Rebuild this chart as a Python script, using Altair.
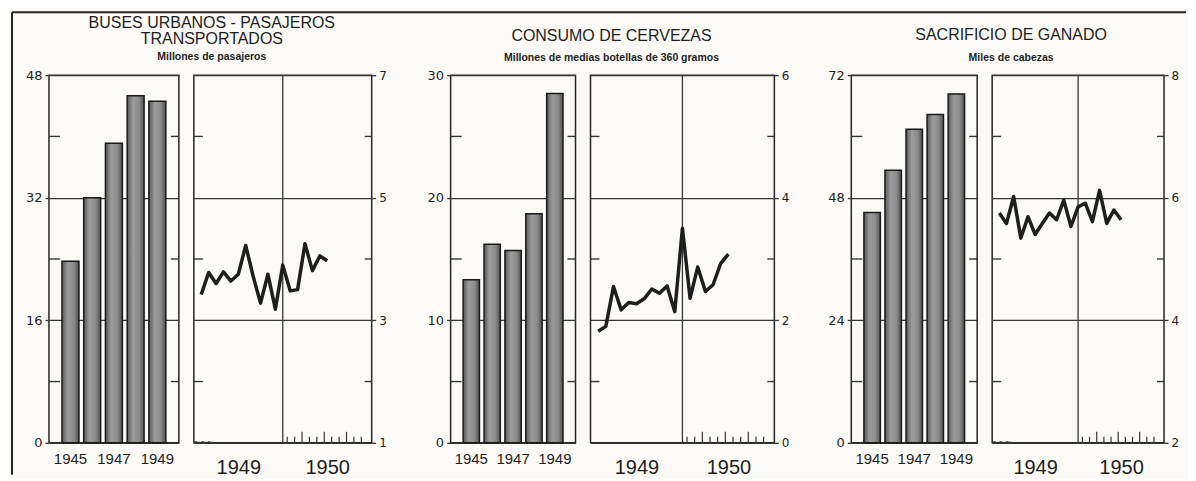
import altair as alt
import pandas as pd

# ---------------- data ----------------
years = ["1945", "1946", "1947", "1948", "1949"]
year_labels = ["1945", "1947", "1949"]

bus_bars = [23.7, 32.0, 39.1, 45.3, 44.6]
beer_bars = [13.3, 16.2, 15.7, 18.7, 28.5]
cattle_bars = [45.1, 53.4, 61.4, 64.3, 68.3]

# monthly values Jan 1949 .. Jun 1950 (month index 1..18, plotted at month end)
months = [1, 2, 3, 4, 5, 6, 7, 8, 9, 10, 11, 12, 13, 14, 15, 16, 17, 18]
bus_line = [3.42, 3.78, 3.60, 3.79, 3.64, 3.75, 4.22, 3.72, 3.28, 3.75, 3.18, 3.90,
            3.48, 3.50, 4.25, 3.81, 4.05, 3.97]
beer_line = [1.82, 1.90, 2.55, 2.17, 2.29, 2.27, 2.35, 2.51, 2.44, 2.56, 2.14, 3.50,
             2.36, 2.87, 2.47, 2.58, 2.93, 3.08]
cattle_line = [5.75, 5.58, 6.02, 5.34, 5.69, 5.40, 5.58, 5.75, 5.64, 5.96, 5.53, 5.85,
               5.91, 5.61, 6.12, 5.58, 5.80, 5.64]

# axis values
bus_bar_major = [0, 16, 32, 48]
bus_bar_minor = [8, 24, 40]
bus_line_major = [1, 3, 5, 7]
bus_line_minor = [2, 4, 6]
beer_bar_major = [0, 10, 20, 30]
beer_bar_minor = [5, 15, 25]
beer_line_major = [0, 2, 4, 6]
beer_line_minor = [1, 3, 5]
cattle_bar_major = [0, 24, 48, 72]
cattle_bar_minor = [12, 36, 60]
cattle_line_major = [2, 4, 6, 8]
cattle_line_minor = [3, 5, 7]

year_boundary = [12]
month_ticks_short = [12.6, 13.6, 15.6, 16.6, 18.6, 19.6, 21.6, 22.6]
month_ticks_tall = [14.6, 17.6, 20.6]

bus_title = ["BUSES URBANOS - PASAJEROS", "TRANSPORTADOS"]
bus_sub = "Millones de pasajeros"
beer_title = ["CONSUMO DE CERVEZAS"]
beer_sub = "Millones de medias botellas de 360 gramos"
cattle_title = ["SACRIFICIO DE GANADO"]
cattle_sub = "Miles de cabezas"

# ---------------- style ----------------
H = 368
INK = "#1e1e1e"
GRID = "#363636"
BORDER = "#262626"
BG = "#fbfaf6"
FONT = "Liberation Sans"
NUMFONT = "DejaVu Sans"

bar_fill = alt.LinearGradient(
    gradient="linear",
    stops=[
        alt.GradientStop(offset=0, color="#5a5a5a"),
        alt.GradientStop(offset=0.35, color="#9c9c9c"),
        alt.GradientStop(offset=0.7, color="#8b8b8b"),
        alt.GradientStop(offset=1, color="#525252"),
    ],
    x1=0, x2=1, y1=0, y2=0,
)

one = pd.DataFrame({"a": [0]})


def y_axis(orient, major, size):
    return alt.Axis(
        orient=orient, values=major, grid=True, gridColor=GRID, gridWidth=1.3,
        domain=False, ticks=True, tickSize=4, tickColor=GRID, tickWidth=1.3,
        labelFont=NUMFONT, labelFontSize=size, labelColor=INK, labelPadding=3,
        title=None,
    )


def minor_ticks(minor, yscale, yaxis, width, left_len, right_len):
    mdf = pd.DataFrame({"v": minor})
    left = alt.Chart(mdf).mark_rule(color=GRID, strokeWidth=1.4).encode(
        y=alt.Y("v:Q", scale=yscale, axis=yaxis),
        x=alt.value(0), x2=alt.value(left_len),
    )
    right = alt.Chart(mdf).mark_rule(color=GRID, strokeWidth=1.4).encode(
        y=alt.Y("v:Q", scale=yscale, axis=yaxis),
        x=alt.value(width - right_len), x2=alt.value(width),
    )
    return [left, right]


def texts(lines, sub, cx, ys, sub_y):
    out = []
    for line, ty in zip(lines, ys):
        out.append(
            alt.Chart(one).mark_text(
                text=line, font=FONT, fontSize=16, color=INK, align="center",
                baseline="alphabetic",
            ).encode(x=alt.value(cx), y=alt.value(ty))
        )
    out.append(
        alt.Chart(one).mark_text(
            text=sub, font=FONT, fontSize=10.5, fontWeight="bold", color=INK,
            align="center", baseline="alphabetic",
        ).encode(x=alt.value(cx), y=alt.value(sub_y))
    )
    return out


def bar_panel(values, major, minor, width, title_layers, extra=None):
    df = pd.DataFrame({"year": years, "v": values})
    yscale = alt.Scale(domain=[major[0], major[-1]], nice=False, zero=False)
    yaxis = y_axis("left", major, 13)
    bars = alt.Chart(df).mark_bar(fill=bar_fill, stroke="#191919", strokeWidth=1.5).encode(
        x=alt.X(
            "year:N",
            scale=alt.Scale(paddingInner=0.22, paddingOuter=0.6),
            axis=alt.Axis(
                values=year_labels, labelAngle=0, title=None, ticks=False, domain=False,
                labelFont=FONT, labelFontSize=15, labelPadding=9, labelColor=INK,
            ),
        ),
        y=alt.Y("v:Q", scale=yscale, axis=yaxis),
    )
    layers = [bars] + minor_ticks(minor, yscale, yaxis, width, 11, 8) + title_layers
    if extra:
        layers += extra
    return alt.layer(*layers).properties(width=width, height=H)


def line_panel(values, major, minor, width, brk):
    df = pd.DataFrame({"m": months, "v": values})
    xs = alt.Scale(domain=[0, 24], nice=False, zero=False)
    ys = alt.Scale(domain=[major[0], major[-1]], nice=False, zero=False)
    xaxis = alt.Axis(
        values=[6, 18], labelExpr="datum.value < 12 ? '1949' : '1950'",
        ticks=False, domain=False, grid=False, title=None,
        labelFont=FONT, labelFontSize=20, labelPadding=15, labelColor=INK,
    )
    yaxis = y_axis("right", major, 12)
    mid = alt.Chart(pd.DataFrame({"m": year_boundary})).mark_rule(
        color=GRID, strokeWidth=1.3
    ).encode(x=alt.X("m:Q", scale=xs, axis=xaxis))
    short = alt.Chart(pd.DataFrame({"m": month_ticks_short})).mark_rule(
        color=GRID, strokeWidth=1.2
    ).encode(x=alt.X("m:Q", scale=xs, axis=xaxis), y=alt.value(H), y2=alt.value(H - 6))
    tall = alt.Chart(pd.DataFrame({"m": month_ticks_tall})).mark_rule(
        color=GRID, strokeWidth=1.2
    ).encode(x=alt.X("m:Q", scale=xs, axis=xaxis), y=alt.value(H), y2=alt.value(H - 11))
    line = alt.Chart(df).mark_line(color=INK, strokeWidth=3.5, strokeJoin="round").encode(
        x=alt.X("m:Q", scale=xs, axis=xaxis),
        y=alt.Y("v:Q", scale=ys, axis=yaxis),
    )
    layers = [mid, short, tall] + minor_ticks(minor, ys, yaxis, width, 9, 7)
    if brk:
        layers.append(
            alt.Chart(one).mark_text(
                text="~~~", font=FONT, fontSize=11, color=GRID, align="left",
                baseline="middle",
            ).encode(x=alt.value(0), y=alt.value(H))
        )
    layers.append(line)
    return alt.layer(*layers).properties(width=width, height=H)


def spacer(w):
    return alt.Chart(one).mark_point(opacity=0).encode(
        x=alt.value(0), y=alt.value(0)
    ).properties(width=w, height=H, view=alt.ViewBackground(stroke="transparent"))


frame = [
    alt.Chart(one).mark_rule(color=BORDER, strokeWidth=2).encode(
        x=alt.value(-37), y=alt.value(-63), y2=alt.value(400)
    ),
    alt.Chart(one).mark_rule(color=BORDER, strokeWidth=2).encode(
        x=alt.value(-37), x2=alt.value(1138), y=alt.value(-63)
    ),
]

b1 = bar_panel(bus_bars, bus_bar_major, bus_bar_minor, 130,
               texts(bus_title, bus_sub, 163, [-47, -31], -15), extra=frame)
l1 = line_panel(bus_line, bus_line_major, bus_line_minor, 178, True)
b2 = bar_panel(beer_bars, beer_bar_major, beer_bar_minor, 125,
               texts(beer_title, beer_sub, 161, [-34], -14))
l2 = line_panel(beer_line, beer_line_major, beer_line_minor, 184, False)
b3 = bar_panel(cattle_bars, cattle_bar_major, cattle_bar_minor, 126,
               texts(cattle_title, cattle_sub, 160, [-35], -14))
l3 = line_panel(cattle_line, cattle_line_major, cattle_line_minor, 172, True)

chart = alt.hconcat(
    b1, l1, spacer(49), b2, l2, spacer(47), b3, l3, spacing=15, bounds="flush"
).properties(
    padding={"left": 2, "top": 2, "right": 0, "bottom": 0},
    background=BG,
).configure_view(
    stroke=BORDER, strokeWidth=1.5
)

chart.save("out.html", embed_options={"renderer": "svg", "actions": False})
